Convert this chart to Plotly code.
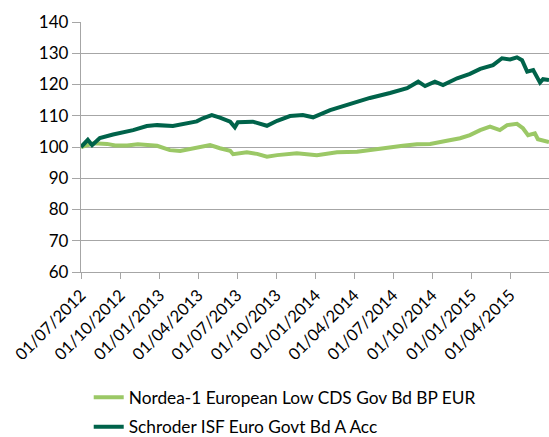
import plotly.graph_objects as go

# Nordea-1 European Low CDS Gov Bd BP EUR (light green)
nordea_dates = ["2012-07-01", "2012-07-31", "2012-08-31", "2012-09-19", "2012-10-17", "2012-11-11",
                "2012-12-26", "2013-01-25", "2013-02-18", "2013-03-20", "2013-04-05", "2013-04-29",
                "2013-05-22", "2013-06-15", "2013-06-22", "2013-07-24", "2013-08-17", "2013-09-09",
                "2013-10-03", "2013-11-18", "2014-01-04", "2014-02-20", "2014-04-08", "2014-06-01",
                "2014-07-24", "2014-08-26", "2014-09-26", "2014-11-04", "2014-12-05", "2014-12-28",
                "2015-01-21", "2015-02-13", "2015-03-08", "2015-03-25", "2015-04-17", "2015-05-01",
                "2015-05-13", "2015-05-29", "2015-06-05", "2015-07-01"]
nordea_values = [100, 101.2, 101, 100.5, 100.5, 100.9,
                 100.4, 99, 98.7, 99.6, 100.1, 100.6,
                 99.6, 98.8, 97.7, 98.3, 97.8, 96.9,
                 97.4, 98, 97.4, 98.3, 98.5, 99.6,
                 100.4, 100.9, 101, 102, 102.8, 103.8,
                 105.4, 106.5, 105.4, 107, 107.4, 106,
                 103.8, 104.4, 102.5, 101.6]

# Schroder ISF Euro Govt Bd A Acc (dark green)
schroder_dates = ["2012-07-01", "2012-07-17", "2012-07-27", "2012-08-14", "2012-09-14", "2012-10-31",
                  "2012-12-02", "2012-12-26", "2013-02-01", "2013-03-06", "2013-03-29", "2013-04-12",
                  "2013-05-03", "2013-05-22", "2013-06-15", "2013-06-26", "2013-07-03", "2013-08-07",
                  "2013-09-09", "2013-10-03", "2013-11-02", "2013-12-02", "2013-12-26", "2014-02-04",
                  "2014-03-22", "2014-05-08", "2014-06-24", "2014-08-03", "2014-08-29", "2014-09-14",
                  "2014-10-07", "2014-10-26", "2014-11-28", "2014-12-28", "2015-01-21", "2015-02-20",
                  "2015-03-13", "2015-04-01", "2015-04-17", "2015-04-29", "2015-05-11", "2015-05-25",
                  "2015-06-10", "2015-06-17", "2015-07-01"]
schroder_values = [100, 102.3, 100.6, 102.9, 104, 105.4,
                   106.7, 107, 106.7, 107.4, 108.2, 109.2,
                   110.2, 109.4, 108.1, 106.3, 107.9, 108.1,
                   106.8, 108.4, 109.9, 110.2, 109.5, 111.8,
                   113.8, 115.7, 117.3, 118.8, 120.9, 119.5,
                   120.9, 119.8, 122, 123.4, 125, 126.2,
                   128.4, 128, 128.7, 127.8, 124.1, 124.6,
                   120.6, 121.7, 121.4]

tick_dates = ["2012-07-01", "2012-10-01", "2013-01-01", "2013-04-01", "2013-07-01", "2013-10-01",
              "2014-01-01", "2014-04-01", "2014-07-01", "2014-10-01", "2015-01-01", "2015-04-01"]
tick_labels = ["01/07/2012", "01/10/2012", "01/01/2013", "01/04/2013", "01/07/2013", "01/10/2013",
               "01/01/2014", "01/04/2014", "01/07/2014", "01/10/2014", "01/01/2015", "01/04/2015"]

FONT = "Lato, 'Liberation Sans', sans-serif"
GRID = "#A6A6A6"

fig = go.Figure()
fig.add_trace(go.Scatter(x=nordea_dates, y=nordea_values, mode="lines",
                         name="Nordea-1 European Low CDS Gov Bd BP EUR",
                         line=dict(color="#9BC866", width=4), legendgroup="a"))
fig.add_trace(go.Scatter(x=schroder_dates, y=schroder_values, mode="lines",
                         name="Schroder ISF Euro Govt Bd A Acc",
                         line=dict(color="#00634A", width=4), legendgroup="b"))

fig.update_layout(
    width=549, height=437,
    margin=dict(l=81, r=0, t=22, b=165, autoexpand=False),
    paper_bgcolor="white", plot_bgcolor="white",
    font=dict(family=FONT, size=16, color="#000000"),
    showlegend=True,
    legend=dict(x=0.0165, xanchor="left", y=-0.43, yanchor="top",
                font=dict(family=FONT, size=17.3), traceorder="grouped",
                tracegroupgap=4, bgcolor="rgba(0,0,0,0)"),
    xaxis=dict(type="date", range=["2012-07-01", "2015-07-01"],
               tickvals=tick_dates, ticktext=tick_labels, tickangle=-45,
               showgrid=False, showline=True, linecolor=GRID, linewidth=1.3,
               ticks="outside", ticklen=6, tickcolor=GRID, tickwidth=1.3,
               tickfont=dict(family=FONT, size=16.5), zeroline=False, automargin=False),
    yaxis=dict(range=[60, 140], tickvals=[60, 70, 80, 90, 100, 110, 120, 130, 140],
               showgrid=True, gridcolor=GRID, gridwidth=1.3,
               showline=True, linecolor=GRID, linewidth=1.3,
               ticks="outside", ticklen=8, tickcolor=GRID, tickwidth=1.3,
               tickfont=dict(family=FONT, size=17), zeroline=False, automargin=False),
)

fig.write_html("out.html", config={"displayModeBar": False},
               post_script="document.body.style.margin='0';document.body.style.overflow='hidden';")
